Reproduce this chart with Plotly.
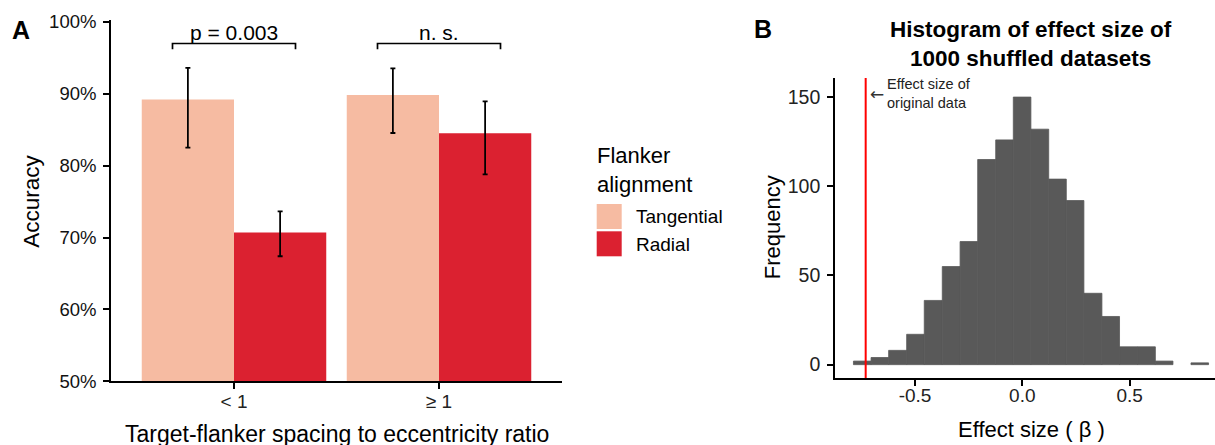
import plotly.graph_objects as go

# ---------------- Panel A data ----------------
categories = ["< 1", "≥ 1"]
alignments = ["Tangential", "Radial"]
acc_tangential = [89.2, 89.85]
acc_tangential_hi = [93.6, 93.55]
acc_tangential_lo = [82.5, 84.55]
acc_radial = [70.7, 84.5]
acc_radial_hi = [73.65, 88.95]
acc_radial_lo = [67.4, 78.8]
y_ticks_a = [50, 60, 70, 80, 90, 100]
y_ticklabels_a = ["50%", "60%", "70%", "80%", "90%", "100%"]
sig_labels = ["p = 0.003", "n. s."]

# ---------------- Panel B data ----------------
bin_edges = [-0.787, -0.705, -0.623, -0.539, -0.457, -0.373, -0.290, -0.208,
             -0.124, -0.042, 0.040, 0.123, 0.205, 0.287, 0.371, 0.453,
             0.537, 0.620, 0.702, 0.786, 0.868]
bin_counts = [2, 4, 8, 17, 36, 55, 69, 115, 126, 150, 132, 104, 92, 40, 27,
              10, 10, 2, 0, 1]
original_effect = -0.730
x_ticks_b = [-0.5, 0.0, 0.5]
x_ticklabels_b = ["-0.5", "0.0", "0.5"]
y_ticks_b = [0, 50, 100, 150]

col_tan = "#F6BBA2"
col_rad = "#DB2130"
col_hist = "#595959"
FONT = "Liberation Sans, Arial, sans-serif"

W, H = 1215, 463
VS, VOFF = 0.961, 7.0
def px(x):
    return x / W
def py(y):
    # target pixel row in the 445-px picture -> paper fraction
    return 1 - (y / VS - VOFF) / H

fig = go.Figure()

xs = list(range(len(categories)))
fig.add_trace(go.Bar(
    x=xs, y=[v - 50 for v in acc_tangential], base=50, name=alignments[0],
    marker=dict(color=col_tan, line=dict(width=0)),
    error_y=dict(type="data", symmetric=False,
                 array=[h - v for h, v in zip(acc_tangential_hi, acc_tangential)],
                 arrayminus=[v - l for v, l in zip(acc_tangential, acc_tangential_lo)],
                 color="black", thickness=1.8, width=2.5),
    xaxis="x", yaxis="y", showlegend=False))
fig.add_trace(go.Bar(
    x=xs, y=[v - 50 for v in acc_radial], base=50, name=alignments[1],
    marker=dict(color=col_rad, line=dict(width=0)),
    error_y=dict(type="data", symmetric=False,
                 array=[h - v for h, v in zip(acc_radial_hi, acc_radial)],
                 arrayminus=[v - l for v, l in zip(acc_radial, acc_radial_lo)],
                 color="black", thickness=1.8, width=2.5),
    xaxis="x", yaxis="y", showlegend=False))

# significance brackets
for i, lab in enumerate(sig_labels):
    fig.add_trace(go.Scatter(
        x=[i - 0.30, i - 0.30, i + 0.30, i + 0.30],
        y=[96.2, 97.0, 97.0, 96.2], mode="lines",
        line=dict(color="black", width=1.7), xaxis="x", yaxis="y",
        showlegend=False, hoverinfo="skip"))
    fig.add_annotation(x=i, y=97.0, xref="x", yref="y", text=lab,
                       showarrow=False, yanchor="bottom", yshift=-3,
                       font=dict(size=21, color="black", family=FONT))

# ---------------- Panel B ----------------
centers = [(a + b) / 2 for a, b in zip(bin_edges[:-1], bin_edges[1:])]
widths = [b - a for a, b in zip(bin_edges[:-1], bin_edges[1:])]
fig.add_trace(go.Bar(
    x=centers, y=bin_counts, width=widths,
    marker=dict(color=col_hist,
                line=dict(color=col_hist, width=[0.8 if c > 0 else 0 for c in bin_counts])),
    xaxis="x2", yaxis="y2", showlegend=False))

fig.add_shape(type="line", xref="x2", yref="y2 domain",
              x0=original_effect, x1=original_effect, y0=0, y1=1,
              line=dict(color="#FF0000", width=2))

fig.add_annotation(x=original_effect, y=152, xref="x2", yref="y2",
                   text="←", showarrow=False, xanchor="left", xshift=2,
                   font=dict(size=17, color="#333333", family="DejaVu Sans"))
fig.add_annotation(x=original_effect, y=152, xref="x2", yref="y2",
                   text="Effect size of<br>original data", showarrow=False,
                   xanchor="left", align="left", xshift=19,
                   font=dict(size=14.5, color="#222222", family=FONT))

# ---------------- Layout ----------------
axis_common = dict(showline=True, linecolor="black", linewidth=1.7,
                   ticks="outside", ticklen=6, tickwidth=1.5, tickcolor="black",
                   showgrid=False, zeroline=False)

fig.update_layout(
    width=W, height=H, margin=dict(l=0, r=0, t=0, b=0),
    paper_bgcolor="white", plot_bgcolor="white",
    barmode="group", bargap=0.1, bargroupgap=0,
    font=dict(family=FONT, color="black"),
    xaxis=dict(domain=[px(111), px(562)], range=[-0.6, 1.6],
               tickvals=xs, ticktext=categories, ticklabelstandoff=-4,
               tickfont=dict(size=19, color="#222222"), anchor="y", **axis_common),
    yaxis=dict(domain=[py(380), py(18.5)], range=[50, 100.3],
               tickvals=y_ticks_a, ticktext=y_ticklabels_a, ticklabelstandoff=3,
               tickfont=dict(size=18.5, color="#111111"), anchor="x", **axis_common),
    xaxis2=dict(domain=[px(835), 1.0], range=[-0.873, 0.898],
                tickvals=x_ticks_b, ticktext=x_ticklabels_b, ticklabelstandoff=-7,
                tickfont=dict(size=19, color="#222222"), anchor="y2", **axis_common),
    yaxis2=dict(domain=[py(376.7), py(76.7)], range=[-7.5, 160.7],
                tickvals=y_ticks_b, ticklabelstandoff=3,
                tickfont=dict(size=19.5, color="#222222"), anchor="x2", **axis_common),
)

ann = [
    dict(text="<b>A</b>", x=px(21), y=py(29), size=25),
    dict(text="<b>B</b>", x=px(763), y=py(28), size=25),
    dict(text="Target-flanker spacing to eccentricity ratio", x=px(336.5), y=py(433), size=23),
    dict(text="Effect size ( β )", x=px(1031), y=py(428), size=22),
    dict(text="<b>Histogram of effect size of<br>1000 shuffled datasets</b>",
         x=px(1031), y=py(43), size=22.5),
]
for a in ann:
    fig.add_annotation(text=a["text"], x=a["x"], y=a["y"], xref="paper", yref="paper",
                       showarrow=False, xanchor="center", yanchor="middle", align="center",
                       font=dict(size=a["size"], color="black", family=FONT))

fig.add_annotation(text="Accuracy", x=px(31.5), y=py(200), xref="paper", yref="paper",
                   showarrow=False, textangle=-90, xanchor="center", yanchor="middle",
                   font=dict(size=22.5, color="black", family=FONT))
fig.add_annotation(text="Frequency", x=px(772), y=py(226), xref="paper", yref="paper",
                   showarrow=False, textangle=-90, xanchor="center", yanchor="middle",
                   font=dict(size=22, color="black", family=FONT))

# legend (manual)
fig.add_annotation(text="Flanker<br>alignment", x=px(595), y=py(169), xref="paper", yref="paper",
                   showarrow=False, xanchor="left", yanchor="middle", align="left",
                   font=dict(size=22, color="black", family=FONT))
for j, (lab, col) in enumerate(zip(alignments, [col_tan, col_rad])):
    y0 = 202.7 + 27.3 * j
    fig.add_shape(type="rect", xref="paper", yref="paper",
                  x0=px(596.7), x1=px(621.7), y0=py(y0 + 25), y1=py(y0),
                  fillcolor=col, line=dict(width=0))
    fig.add_annotation(text=lab, x=px(634), y=py(y0 + 13), xref="paper", yref="paper",
                       showarrow=False, xanchor="left", yanchor="middle",
                       font=dict(size=19, color="black", family=FONT))

post = (
    "document.documentElement.style.margin='0';"
    "document.documentElement.style.overflow='hidden';"
    "document.body.style.margin='0';"
    "document.body.style.overflow='hidden';"
    "var gd=document.getElementById('{plot_id}');"
    "gd.style.position='fixed';gd.style.top='0px';gd.style.left='0px';"
)
fig.write_html("out.html", config={"displayModeBar": False}, post_script=post)
